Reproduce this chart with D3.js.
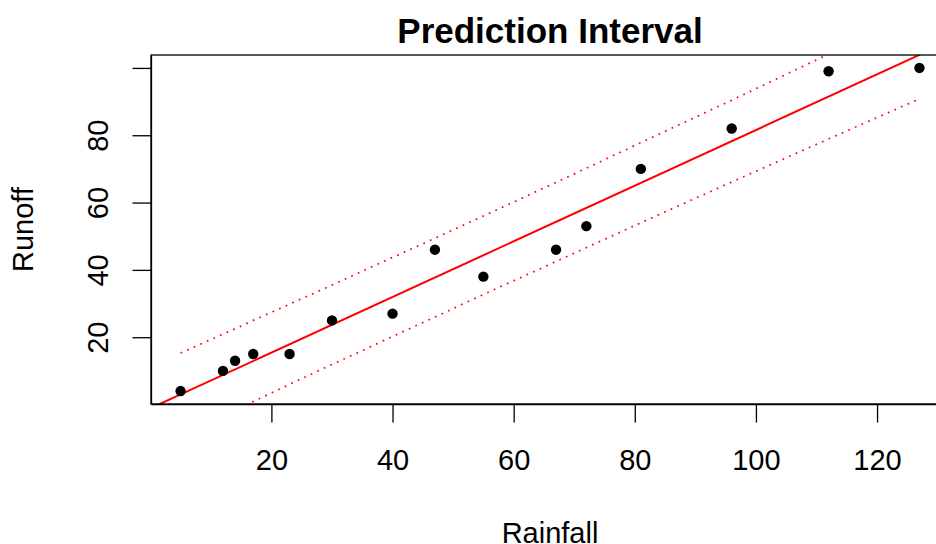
<!DOCTYPE html>
<html>
<head>
<meta charset="utf-8">
<script src="https://cdnjs.cloudflare.com/ajax/libs/d3/7.8.5/d3.min.js"></script>
<style>
  body { margin: 0; background: #fff; }
  svg { display: block; }
  text { font-family: "Liberation Sans", Arial, Helvetica, sans-serif; fill: #000; }
</style>
</head>
<body>
<svg id="figure"></svg>
<script>
// rainfall / runoff observations
var rainfall = [5, 12, 14, 17, 23, 30, 40, 47, 55, 67, 72, 81, 96, 112, 127];
var runoff   = [4, 10, 13, 15, 15, 25, 27, 46, 38, 46, 53, 70, 82, 99, 100];

// fitted line (in data units)
var fitX = [0, 135];
var fitY = [-1.13, 110.5];

// prediction interval bounds at each rainfall value
var upperPI = [15.3, 20.9, 22.5, 25.0, 29.8, 35.5, 43.7, 49.4, 56.0, 66.0, 70.2, 77.8, 90.4, 104.1, 117.0];
var lowerPI = [-9.3, -3.3, -1.6, 0.9, 6.0, 11.9, 20.2, 26.0, 32.7, 42.5, 46.6, 54.0, 66.1, 78.9, 90.8];

var xTicks = [20, 40, 60, 80, 100, 120];
var yTicks = [20, 40, 60, 80, 100];
var yTickLabels = ["20", "40", "60", "80", ""];

var fullWidth = 936;
var fullHeight = 544;

var plot = { left: 151, right: 949, top: 55, bottom: 404 };

var svg = d3.select('#figure')
    .attr("width", fullWidth)
    .attr("height", fullHeight);

// R style 4% padding around the data range
var xRange = d3.scaleLinear().domain([0.12, 131.88]).range([plot.left, plot.right]);
var yRange = d3.scaleLinear().domain([0.16, 103.84]).range([plot.bottom, plot.top]);

svg.append("clipPath").attr("id", "plotclip")
    .append("rect")
    .attr("x", plot.left).attr("y", plot.top)
    .attr("width", plot.right - plot.left).attr("height", plot.bottom - plot.top);

var inner = svg.append("g").attr("clip-path", "url(#plotclip)");

var fitData = fitX.map(function (x, i) { return { x: x, y: fitY[i] }; });
var upperData = rainfall.map(function (x, i) { return { x: x, y: upperPI[i] }; });
var lowerData = rainfall.map(function (x, i) { return { x: x, y: lowerPI[i] }; });

var line = d3.line()
    .x(function (d) { return xRange(d.x); })
    .y(function (d) { return yRange(d.y); });

inner.append("path").attr("d", line(fitData))
    .attr("stroke", "#ff0000").attr("stroke-width", 2).attr("fill", "none");

[upperData, lowerData].forEach(function (band) {
    inner.append("path").attr("d", line(band))
        .attr("stroke", "#ff0000").attr("stroke-width", 1.7)
        .attr("stroke-dasharray", "1.7,5.5").attr("fill", "none");
});

inner.selectAll("circle.pt")
    .data(rainfall)
    .enter().append("circle")
    .attr("class", "pt")
    .attr("cx", function (d) { return xRange(d); })
    .attr("cy", function (d, i) { return yRange(runoff[i]); })
    .attr("r", 5.2)
    .attr("fill", "#000");

// box around the plot region
svg.append("rect")
    .attr("x", plot.left).attr("y", plot.top)
    .attr("width", plot.right - plot.left).attr("height", plot.bottom - plot.top)
    .attr("fill", "none").attr("stroke", "#000").attr("stroke-width", 1.3);

var xAxis = d3.axisBottom(xRange).tickValues(xTicks).tickSize(18.5).tickPadding(26).tickSizeOuter(0);
var yAxis = d3.axisLeft(yRange).tickValues(yTicks).tickSize(18.5).tickSizeOuter(0)
    .tickFormat(function (d, i) { return yTickLabels[i]; });

var gx = svg.append("g").attr("transform", "translate(0," + plot.bottom + ")").call(xAxis);
gx.select(".domain").attr("stroke-width", 1.3);
gx.selectAll(".tick line").attr("stroke-width", 1.3);
gx.selectAll(".tick text")
    .attr("font-size", 29).attr("y", 66).attr("dy", null);

var gy = svg.append("g").attr("transform", "translate(" + plot.left + ",0)").call(yAxis);
gy.select(".domain").attr("stroke-width", 1.3);
gy.selectAll(".tick line").attr("stroke-width", 1.3);
gy.selectAll(".tick text")
    .attr("font-size", 29)
    .attr("x", null).attr("dy", null)
    .attr("text-anchor", "middle")
    .attr("transform", "translate(-43,0) rotate(-90)");

svg.selectAll(".domain, .tick line").attr("stroke", "#000");
svg.selectAll(".tick text").attr("fill", "#000").style("font-family", "'Liberation Sans', Arial, sans-serif");

svg.append("text").text("Prediction Interval")
    .attr("x", 550).attr("y", 42.7)
    .attr("text-anchor", "middle")
    .attr("font-size", 35).attr("font-weight", "bold");

svg.append("text").text("Rainfall")
    .attr("x", 550).attr("y", 543)
    .attr("text-anchor", "middle")
    .attr("font-size", 29);

svg.append("text").text("Runoff")
    .attr("text-anchor", "middle")
    .attr("font-size", 29)
    .attr("transform", "translate(33.3," + ((plot.top + plot.bottom) / 2) + ") rotate(-90)");
</script>
</body>
</html>
